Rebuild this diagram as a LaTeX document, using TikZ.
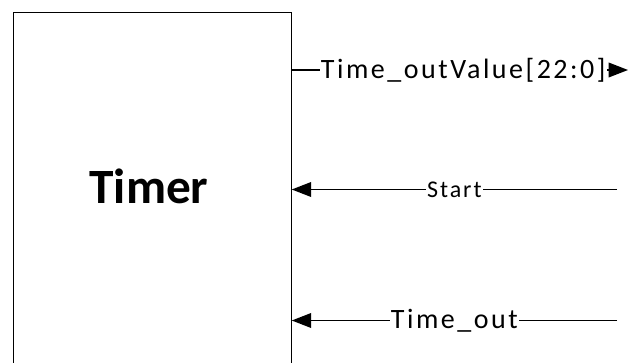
\documentclass[tikz,border=0pt]{standalone}
\usepackage{fontspec}
\setmainfont{Carlito}
\newfontfamily\sigfont[LetterSpace=9]{Carlito}
\newfontfamily\sigfontsmall[LetterSpace=8]{Carlito}
\usetikzlibrary{arrows.meta}
\begin{document}
\begin{tikzpicture}[x=0.75pt,y=-0.75pt,
  blockbox/.style={draw, line width=0.95pt, inner sep=0pt, anchor=north west,
    minimum width=208.5pt, minimum height=276pt},
  sig/.style={line width=1.05pt, -{Triangle[length=14.5pt,width=11pt]}},
  siglabel/.style={fill=white, inner xsep=1pt, inner ysep=0pt},
  bigfont/.style={font=\sigfont\fontsize{21}{25}\selectfont},
  smallfont/.style={font=\sigfontsmall\fontsize{18}{21}\selectfont}]
\useasboundingbox (0,0) rectangle (630,363);

% timer block, open towards the bottom of the page
\node[blockbox] (timer) at (12.5,12) {};
\node[font=\fontsize{37}{44}\selectfont\bfseries, anchor=base] (title) at (149,203) {Timer};

% free ends of the signal lines
\coordinate (outEnd) at (628,70);
\coordinate (startSrc) at (617,189.5);
\coordinate (toSrc) at (617,320.5);

% output bus
\draw[sig] (outEnd -| timer.east) -- (outEnd)
  node[siglabel, bigfont, pos=0.51] (outlbl) {Time\_outValue[22:0]};

% inputs
\draw[sig] (startSrc) -- (startSrc -| timer.east)
  node[siglabel, smallfont, pos=0.5] (startlbl) {Start};
\draw[sig] (toSrc) -- (toSrc -| timer.east)
  node[siglabel, bigfont, pos=0.5] (tolbl) {Time\_out};
\end{tikzpicture}
\end{document}
